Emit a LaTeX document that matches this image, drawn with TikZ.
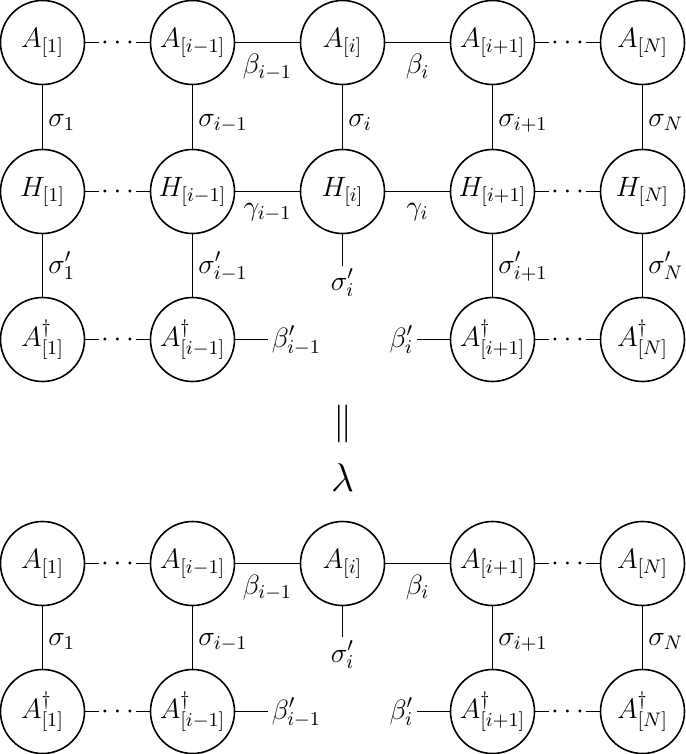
\RequirePackage{fix-cm}
\documentclass[tikz,border=0pt]{standalone}
\newcommand\tnfont{\fontsize{14}{17}\selectfont}
\begin{document}
\begin{tikzpicture}[x=0.5pt,y=-0.5pt,line width=0.8pt,
  tn/.style={circle,draw,minimum size=42pt,inner sep=0pt,font=\tnfont},
  dotn/.style={inner sep=0.6pt,text height=7pt,text depth=0pt,font=\tnfont},
  lab/.style={inner sep=0pt,font=\tnfont,anchor=base},
  labr/.style={inner sep=0pt,font=\tnfont,anchor=base west},
  labl/.style={inner sep=0pt,font=\tnfont,anchor=base east}]
\useasboundingbox (0,0) rectangle (685,754);
% ---------- top block ----------
\node[tn] (a1) at (42.5,42.5) {$A_{[1]}$};
\node[tn] (a2) at (192.5,42.5) {$A_{[i-1]}$};
\node[tn] (a3) at (342.5,42.5) {$A_{[i]}$};
\node[tn] (a4) at (492.5,42.5) {$A_{[i+1]}$};
\node[tn] (a5) at (642.5,42.5) {$A_{[N]}$};
\node[dotn] (da1) at (117.5,42.5) {$\cdots$};
\node[dotn] (da2) at (567.5,42.5) {$\cdots$};

\node[tn] (h1) at (42.5,191.5) {$H_{[1]}$};
\node[tn] (h2) at (192.5,191.5) {$H_{[i-1]}$};
\node[tn] (h3) at (342.5,191.5) {$H_{[i]}$};
\node[tn] (h4) at (492.5,191.5) {$H_{[i+1]}$};
\node[tn] (h5) at (642.5,191.5) {$H_{[N]}$};
\node[dotn] (dh1) at (117.5,191.5) {$\cdots$};
\node[dotn] (dh2) at (567.5,191.5) {$\cdots$};

\node[tn] (b1) at (42.5,339.5) {$A^\dagger_{[1]}$};
\node[tn] (b2) at (192.5,339.5) {$A^\dagger_{[i-1]}$};
\node[tn] (b4) at (492.5,339.5) {$A^\dagger_{[i+1]}$};
\node[tn] (b5) at (642.5,339.5) {$A^\dagger_{[N]}$};
\node[dotn] (db1) at (117.5,339.5) {$\cdots$};
\node[dotn] (db2) at (567.5,339.5) {$\cdots$};
\coordinate (bl) at (268,339.5);
\coordinate (br) at (417,339.5);
\coordinate (hs) at (342.5,265.5);

\draw (a1) -- (da1) -- (a2) -- (a3) -- (a4) -- (da2) -- (a5);
\draw (h1) -- (dh1) -- (h2) -- (h3) -- (h4) -- (dh2) -- (h5);
\draw (b1) -- (db1) -- (b2) -- (bl);
\draw (br) -- (b4) -- (db2) -- (b5);
\draw (a1) -- (h1) -- (b1);
\draw (a2) -- (h2) -- (b2);
\draw (a3) -- (h3) -- (hs);
\draw (a4) -- (h4) -- (b4);
\draw (a5) -- (h5) -- (b5);

\node[lab] (lb1) at (267.5,74) {$\beta_{i-1}$};
\node[lab] (lb2) at (417.5,74) {$\beta_i$};
\node[lab] (lg1) at (267.5,215.5) {$\gamma_{i-1}$};
\node[lab] (lg2) at (417.5,215.5) {$\gamma_i$};
\node[labr] (ls1) at (47.5,126.5) {$\sigma_1$};
\node[labr] (ls2) at (197.5,126.5) {$\sigma_{i-1}$};
\node[labr] (ls3) at (347.5,126.5) {$\sigma_i$};
\node[labr] (ls4) at (497.5,126.5) {$\sigma_{i+1}$};
\node[labr] (ls5) at (647.5,126.5) {$\sigma_N$};
\node[labr] (lp1) at (47.5,273) {$\sigma'_1$};
\node[labr] (lp2) at (197.5,273) {$\sigma'_{i-1}$};
\node[lab] (lp3) at (342.5,290) {$\sigma'_i$};
\node[labr] (lp4) at (497.5,273) {$\sigma'_{i+1}$};
\node[labr] (lp5) at (647.5,273) {$\sigma'_N$};
\node[labr] (lq1) at (271,347) {$\beta'_{i-1}$};
\node[labl] (lq2) at (414,347) {$\beta'_i$};

% ---------- middle ----------
\node[inner sep=0pt,font=\fontsize{19}{22}\selectfont] (eq) at (342.5,424) {$\parallel$};
\node[inner sep=0pt,font=\fontsize{20}{24}\selectfont] (lam) at (342.5,478) {$\lambda$};

% ---------- bottom block ----------
\node[tn] (c1) at (42.5,563.5) {$A_{[1]}$};
\node[tn] (c2) at (192.5,563.5) {$A_{[i-1]}$};
\node[tn] (c3) at (342.5,563.5) {$A_{[i]}$};
\node[tn] (c4) at (492.5,563.5) {$A_{[i+1]}$};
\node[tn] (c5) at (642.5,563.5) {$A_{[N]}$};
\node[dotn] (dc1) at (117.5,563.5) {$\cdots$};
\node[dotn] (dc2) at (567.5,563.5) {$\cdots$};

\node[tn] (e1) at (42.5,711.5) {$A^\dagger_{[1]}$};
\node[tn] (e2) at (192.5,711.5) {$A^\dagger_{[i-1]}$};
\node[tn] (e4) at (492.5,711.5) {$A^\dagger_{[i+1]}$};
\node[tn] (e5) at (642.5,711.5) {$A^\dagger_{[N]}$};
\node[dotn] (de1) at (117.5,711.5) {$\cdots$};
\node[dotn] (de2) at (567.5,711.5) {$\cdots$};
\coordinate (el) at (268,711.5);
\coordinate (er) at (417,711.5);
\coordinate (cs) at (342.5,637);

\draw (c1) -- (dc1) -- (c2) -- (c3) -- (c4) -- (dc2) -- (c5);
\draw (e1) -- (de1) -- (e2) -- (el);
\draw (er) -- (e4) -- (de2) -- (e5);
\draw (c1) -- (e1);
\draw (c2) -- (e2);
\draw (c3) -- (cs);
\draw (c4) -- (e4);
\draw (c5) -- (e5);

\node[lab] (mb1) at (267.5,594.5) {$\beta_{i-1}$};
\node[lab] (mb2) at (417.5,594.5) {$\beta_i$};
\node[labr] (ms1) at (47.5,645) {$\sigma_1$};
\node[labr] (ms2) at (197.5,645) {$\sigma_{i-1}$};
\node[lab] (ms3) at (342.5,662) {$\sigma'_i$};
\node[labr] (ms4) at (497.5,645) {$\sigma_{i+1}$};
\node[labr] (ms5) at (647.5,645) {$\sigma_N$};
\node[labr] (mq1) at (271,719) {$\beta'_{i-1}$};
\node[labl] (mq2) at (414,719) {$\beta'_i$};
\end{tikzpicture}
\end{document}
